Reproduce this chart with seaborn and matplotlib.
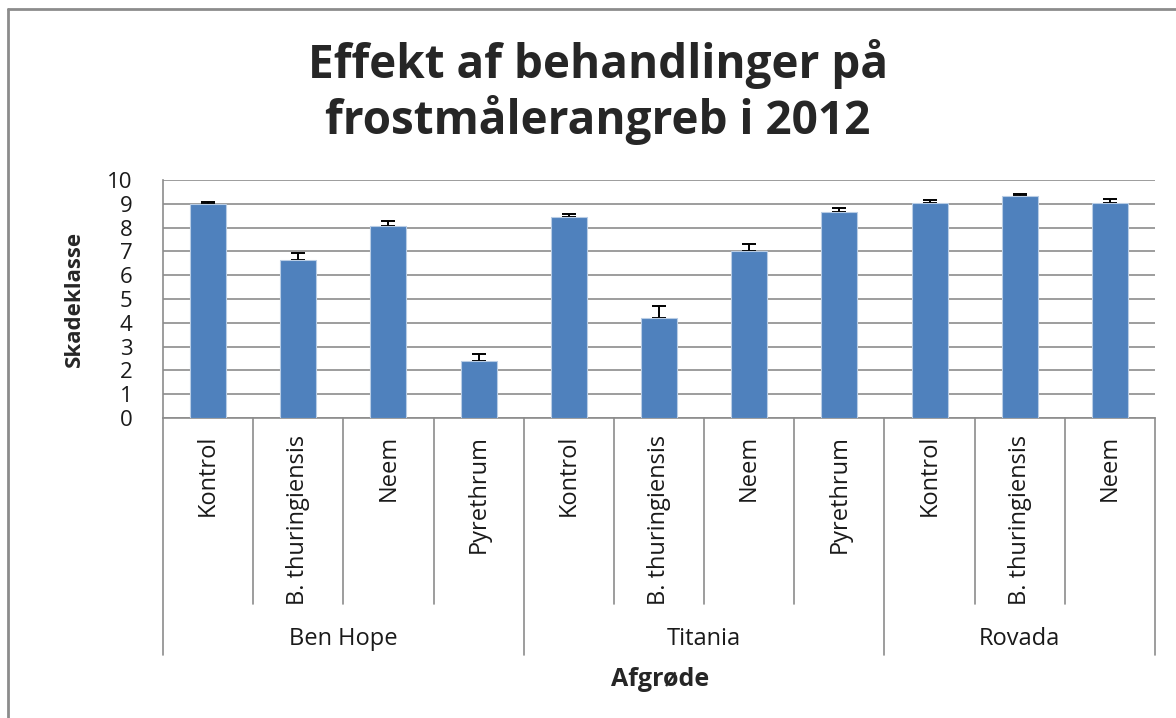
import seaborn as sns
import matplotlib.pyplot as plt
import matplotlib.transforms as mtransforms
from matplotlib.lines import Line2D
import pandas as pd

# data
treatments = ["Kontrol", "B. thuringiensis", "Neem", "Pyrethrum",
              "Kontrol", "B. thuringiensis", "Neem", "Pyrethrum",
              "Kontrol", "B. thuringiensis", "Neem"]
crops = ["Ben Hope"] * 4 + ["Titania"] * 4 + ["Rovada"] * 3
values = [9.0, 6.63, 8.07, 2.38, 8.45, 4.2, 7.0, 8.67, 9.04, 9.32, 9.05]
errors = [0.08, 0.30, 0.20, 0.32, 0.11, 0.49, 0.31, 0.14, 0.10, 0.10, 0.14]
yticks = list(range(0, 11))

df = pd.DataFrame({"slot": range(len(values)), "treatment": treatments,
                   "crop": crops, "value": values, "err": errors})

sns.set_style("white")
plt.rcParams["font.family"] = ["Open Sans", "DejaVu Sans"]

fig = plt.figure(figsize=(11.76, 7.18), dpi=100)
ax = fig.add_axes([163 / 1176, 1 - 418 / 718, (1155 - 163) / 1176, (418 - 180) / 718])

sns.barplot(data=df, x="slot", y="value", ax=ax, color="#4F81BD",
            saturation=1, width=0.4, errorbar=None,
            edgecolor="#B9CDE5", linewidth=0.8, zorder=3)
# upper-only error bars; the lower cap is hidden behind the bar
ax.errorbar(df["slot"], df["value"], yerr=[[0] * len(df), df["err"]],
            fmt="none", ecolor="black", elinewidth=1.4, capsize=5,
            capthick=1.4, zorder=2.5)

grid_c = "#8C8C8C"
txt_c = "#1a1a1a"
ax.set_ylim(0, 10)
ax.set_xlim(-0.5, len(values) - 0.5)
ax.set_yticks(yticks)
ax.yaxis.grid(True, color=grid_c, linewidth=1.2)
ax.set_axisbelow(True)
for side in ["top", "right"]:
    ax.spines[side].set_visible(False)
for side in ["left", "bottom"]:
    ax.spines[side].set_color(grid_c)
    ax.spines[side].set_linewidth(1.2)
ax.tick_params(axis="y", length=8, width=1.2, color=grid_c, pad=14,
               labelsize=16, labelcolor=txt_c)
ax.set_xticks(range(len(values)))
ax.set_xticklabels(treatments, rotation=90, va="top", ha="center",
                   fontsize=17, color=txt_c)
ax.tick_params(axis="x", length=0, pad=12)
ax.set_xlabel("")
ax.set_ylabel("Skadeklasse", fontsize=16, fontweight="bold", labelpad=16)

# hierarchical category axis
trans = mtransforms.blended_transform_factory(ax.transData, ax.transAxes)
group_edges = [-0.5]
group_names = []
group_centers = []
for i, c in enumerate(crops):
    if i == len(crops) - 1 or crops[i + 1] != c:
        start = group_edges[-1]
        group_edges.append(i + 0.5)
        group_names.append(c)
        group_centers.append((start + i + 0.5) / 2)
for b in range(len(values) + 1):
    xb = b - 0.5
    depth = -0.995 if xb in group_edges else -0.78
    ax.add_line(Line2D([xb, xb], [0, depth], transform=trans, color=grid_c,
                       linewidth=1.2, clip_on=False))
for name, cx in zip(group_names, group_centers):
    ax.text(cx, -0.93, name, transform=trans, ha="center", va="center",
            fontsize=17, color=txt_c)

fig.text(660 / 1176, 1 - 680 / 718, "Afgrøde", ha="center", va="center",
         fontsize=18, fontweight="bold")
fig.text(598 / 1176, 1 - 64 / 718, "Effekt af behandlinger på",
         ha="center", va="center", fontsize=33, fontweight="bold")
fig.text(598 / 1176, 1 - 120 / 718, "frostmålerangreb i 2012",
         ha="center", va="center", fontsize=33, fontweight="bold")

# outer chart frame
fig.add_artist(Line2D([8 / 1176, 8 / 1176], [0, 1 - 9 / 718],
                      transform=fig.transFigure, color="#8C8C8C", linewidth=2))
fig.add_artist(Line2D([8 / 1176, 1], [1 - 9 / 718, 1 - 9 / 718],
                      transform=fig.transFigure, color="#8C8C8C", linewidth=2))

fig.savefig("out.png", dpi=100)
